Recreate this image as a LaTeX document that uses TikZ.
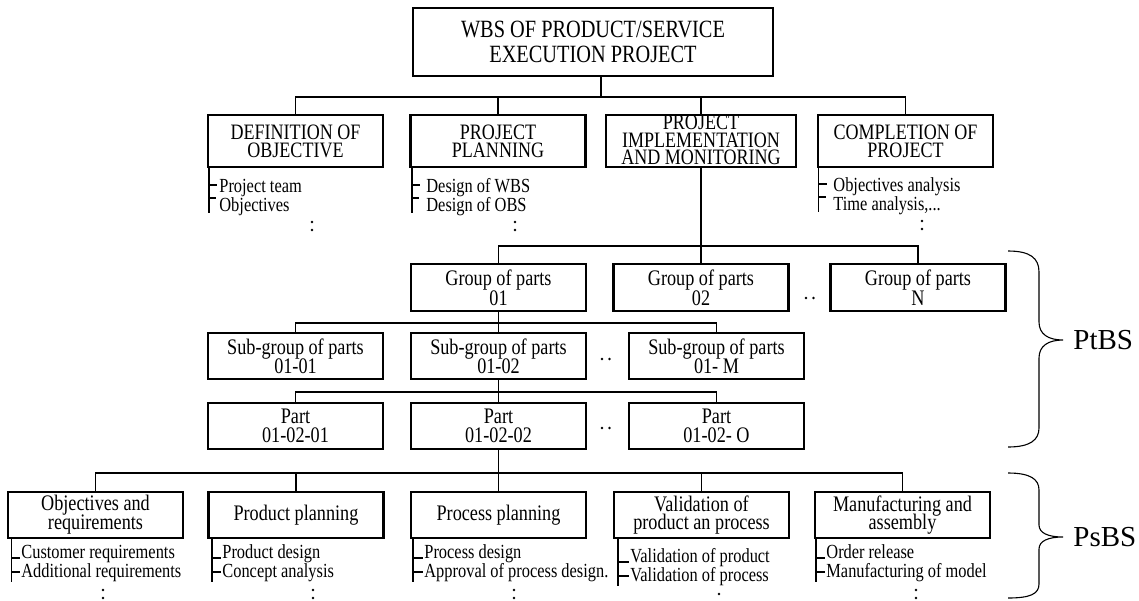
\documentclass[tikz,border=0pt]{standalone}
\usepackage{fontspec}
\setmainfont{Liberation Serif}[FakeStretch=0.82]
\newfontfamily\bracefont{Liberation Serif}
\newcommand\fsz[2]{\fontsize{#1}{#2}\selectfont\lineskiplimit=-100pt\relax}
\tikzset{
  bx/.style={draw=black, line width=1.25pt, inner sep=0pt, align=center, font=\fsz{11.1pt}{9.4pt}},
  rowbox/.style={bx, minimum width=87.5pt, minimum height=23pt},
  lvbox/.style={bx, minimum width=87.5pt, minimum height=26pt, font=\fsz{11pt}{8.9pt}},
  conn/.style={line width=0.65pt},
  lst/.style={line width=0.55pt},
  item/.style={anchor=base west, inner sep=0pt, font=\fsz{10pt}{9pt}},
  brace/.style={line width=0.55pt},
  blabel/.style={anchor=west, inner sep=0pt, font=\bracefont\fontsize{14.5pt}{16pt}\selectfont}
}
\begin{document}
\begin{tikzpicture}[x=0.5pt,y=-0.5pt]
\useasboundingbox (0,0) rectangle (1139,600);

% ---------- top ----------
\node[bx, minimum width=180pt, minimum height=34pt, font=\fsz{12.4pt}{12.5pt}] (top) at (593,42)
  {WBS OF PRODUCT/SERVICE\\EXECUTION PROJECT};

% ---------- level 1 ----------
\node[lvbox] (b1) at (295.5,141) {DEFINITION OF\\OBJECTIVE};
\node[lvbox] (b2) at (498,141) {PROJECT\\PLANNING};
\node[lvbox, minimum width=95pt] (b3) at (701,141) {};
\node[inner sep=0pt, align=center, font=\fsz{11pt}{8.6pt}] (b3t) at (701,140)
  {PROJECT\\IMPLEMENTATION\\AND MONITORING};
\node[lvbox] (b4) at (905.5,141) {COMPLETION OF\\PROJECT};

\coordinate (bus1) at (601,97);
\foreach \n in {b1,b2,b3,b4}
  \draw[conn] (top.south -| bus1) -- (bus1) -| (\n.north);

% level 1 lists
\draw[lst] (209,167) -- (209,213);
\draw[lst] (209,185) -- (217,185);
\draw[lst] (209,198) -- (216,198);
\node[item] (b1i1) at (219,192) {Project team};
\node[item] (b1i2) at (219,211) {Objectives};

\draw[lst] (412,167) -- (412,213);
\draw[lst] (412,185) -- (420,185);
\draw[lst] (412,198) -- (419,198);
\node[item] (b2i1) at (426,192) {Design of WBS};
\node[item] (b2i2) at (426,211) {Design of OBS};

\draw[lst] (818.5,167) -- (818.5,212);
\draw[lst] (818.5,184) -- (827,184);
\draw[lst] (818.5,197) -- (826,197);
\node[item] (b4i1) at (833,191) {Objectives analysis};
\node[item] (b4i2) at (833,210) {Time analysis,...};

\foreach \x/\y in {312/222,312/230,515/222,515/230,922/221,922/229}
  \fill (\x,\y) circle (0.7pt);

% ---------- PtBS ----------
\node[rowbox, minimum height=23.5pt, font=\fsz{11.1pt}{10pt}] (g1) at (498.5,287.5) {Group of parts\\01};
\node[rowbox, minimum height=23.5pt, font=\fsz{11.1pt}{10pt}] (g2) at (701,287.5) {Group of parts\\02};
\node[rowbox, minimum height=23.5pt, font=\fsz{11.1pt}{10pt}] (gn) at (918,287.5) {Group of parts\\N};
\coordinate (bus2) at (701,246);
\foreach \n in {g1,g2,gn}
  \draw[conn] (b3.south) -- (b3.south |- bus2) -| (\n.north);

\node[rowbox] (s1) at (295.5,356) {Sub-group of parts\\01-01};
\node[rowbox] (s2) at (498.5,356) {Sub-group of parts\\01-02};
\node[rowbox] (sm) at (716.5,356) {Sub-group of parts\\01- M};
\coordinate (bus3) at (498.5,323);
\foreach \n in {s1,s2,sm}
  \draw[conn] (g1.south) -- (g1.south |- bus3) -| (\n.north);

\node[rowbox] (p1) at (295.5,426) {Part\\01-02-01};
\node[rowbox] (p2) at (498.5,426) {Part\\01-02-02};
\node[rowbox] (po) at (716.5,426) {Part\\01-02- O};
\coordinate (bus4) at (498.5,392);
\foreach \n in {p1,p2,po}
  \draw[conn] (s2.south) -- (s2.south |- bus4) -| (\n.north);

\foreach \x/\y in {806/298,813.5/298,602/359,609.5/359,602/428,609.5/428}
  \fill (\x,\y) circle (0.65pt);

% ---------- PsBS ----------
\node[rowbox] (c1) at (95.5,515) {Objectives and\\requirements};
\node[rowbox] (c2) at (296,515) {Product planning};
\node[rowbox] (c3) at (498.5,515) {Process planning};
\node[rowbox] (c4) at (701.5,515) {Validation of\\product an process};
\node[rowbox] (c5) at (902.5,515) {Manufacturing and\\assembly};
\coordinate (bus5) at (498.5,473);
\foreach \n in {c1,c2,c3,c4,c5}
  \draw[conn] (p2.south) -- (p2.south |- bus5) -| (\n.north);

% bottom lists
\draw[lst] (11.5,538) -- (11.5,582);
\draw[lst] (11.5,558) -- (20,558);
\draw[lst] (11.5,572) -- (20,572);
\node[item] (c1i1) at (21,558) {Customer requirements};
\node[item] (c1i2) at (21,577) {Additional requirements};

\draw[lst] (212,538) -- (212,582);
\draw[lst] (212,558) -- (221,558);
\draw[lst] (212,572) -- (221,572);
\node[item] (c2i1) at (222,558) {Product design};
\node[item] (c2i2) at (222,577) {Concept analysis};

\draw[lst] (413,538) -- (413,582);
\draw[lst] (413,558) -- (423,558);
\draw[lst] (413,572) -- (423,572);
\node[item] (c3i1) at (424,558) {Process design};
\node[item] (c3i2) at (424,577) {Approval of process design.};

\draw[lst] (618,538) -- (618,586);
\draw[lst] (618,562) -- (629,562);
\draw[lst] (618,576) -- (629,576);
\node[item] (c4i1) at (630,562) {Validation of product};
\node[item] (c4i2) at (630,581) {Validation of process};

\draw[lst] (816,538) -- (816,582);
\draw[lst] (816,558) -- (825,558);
\draw[lst] (816,572) -- (825,572);
\node[item] (c5i1) at (826,558) {Order release};
\node[item] (c5i2) at (826,577) {Manufacturing of model};

\foreach \x/\y in {103/590,103/598,313/590,313/598,514/590,514/598,719/594,916/590,916/598}
  \fill (\x,\y) circle (0.7pt);

% ---------- braces ----------
\draw[brace] (1008,251) .. controls (1030,251) and (1039,258) .. (1039,272)
  -- (1039,322) .. controls (1039,334) and (1048,340) .. (1063,340)
  .. controls (1048,340) and (1039,346) .. (1039,358)
  -- (1039,428) .. controls (1039,440) and (1030,447) .. (1008,447);
\node[blabel] (ptbs) at (1073,340) {PtBS};

\draw[brace] (1008,473) .. controls (1030,473) and (1039,479) .. (1039,490)
  -- (1039,525) .. controls (1039,533) and (1048,537) .. (1063,537)
  .. controls (1048,537) and (1039,541) .. (1039,549)
  -- (1039,584) .. controls (1039,594) and (1030,598) .. (1008,598);
\node[blabel] (psbs) at (1073,537) {PsBS};
\end{tikzpicture}
\end{document}
